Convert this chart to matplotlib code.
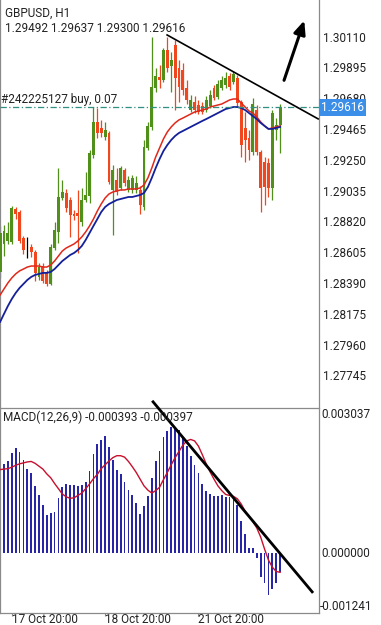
import matplotlib
matplotlib.use("Agg")
import matplotlib.pyplot as plt
from matplotlib.transforms import blended_transform_factory

plt.rcParams["font.family"] = ["Roboto", "DejaVu Sans"]

# GBPUSD H1 candles, oldest first (bar 0 = 17 Oct 17:00)
opens = [1.28468, 1.28663, 1.28684, 1.28677, 1.28907, 1.28886, 1.28705, 1.28621, 1.28642, 1.28607,
         1.28433, 1.28509, 1.28468, 1.28384, 1.28635, 1.28747, 1.28984, 1.29019, 1.28970, 1.28872,
         1.28879, 1.28817, 1.28970, 1.28998, 1.29284, 1.29515, 1.29473, 1.29410, 1.29438, 1.29040,
         1.29110, 1.29054, 1.29180, 1.29040, 1.29040, 1.29040, 1.29040, 1.28921, 1.29333, 1.29480,
         1.29752, 1.29829, 1.29808, 1.30017, 1.29905, 1.30052, 1.29891, 1.29877, 1.29752, 1.29598,
         1.29654, 1.29633, 1.29626, 1.29598, 1.29626, 1.29752, 1.29689, 1.29752, 1.29773, 1.29836,
         1.29794, 1.29822, 1.29654, 1.29473, 1.29403, 1.29305, 1.29598, 1.29305, 1.29235, 1.29228,
         1.29054, 1.29459, 1.29492]
highs = [1.28789, 1.28796, 1.28817, 1.28928, 1.28921, 1.28900, 1.28719, 1.28712, 1.28663, 1.28621,
         1.28530, 1.28530, 1.28482, 1.28663, 1.28817, 1.29193, 1.29110, 1.29047, 1.28991, 1.28900,
         1.29040, 1.29054, 1.29166, 1.29319, 1.29619, 1.29612, 1.29529, 1.29515, 1.29452, 1.29214,
         1.29193, 1.29207, 1.29193, 1.29138, 1.29145, 1.29138, 1.29068, 1.29389, 1.29515, 1.30108,
         1.29891, 1.29912, 1.30031, 1.30108, 1.30003, 1.30087, 1.29947, 1.29926, 1.29808, 1.29703,
         1.29696, 1.29668, 1.29654, 1.29696, 1.29738, 1.29773, 1.29808, 1.29836, 1.29863, 1.29856,
         1.29870, 1.29842, 1.29668, 1.29584, 1.29459, 1.29682, 1.29633, 1.29319, 1.29270, 1.29263,
         1.29598, 1.29542, 1.29637]
lows = [1.28426, 1.28579, 1.28663, 1.28663, 1.28837, 1.28670, 1.28593, 1.28565, 1.28572, 1.28405,
        1.28412, 1.28391, 1.28370, 1.28377, 1.28621, 1.28670, 1.28970, 1.28886, 1.28712, 1.28831,
        1.28600, 1.28789, 1.28956, 1.28949, 1.29263, 1.29403, 1.29410, 1.29389, 1.29082, 1.28726,
        1.29005, 1.29040, 1.29068, 1.29026, 1.29019, 1.29019, 1.28872, 1.28900, 1.29319, 1.29459,
        1.29724, 1.29752, 1.29794, 1.29863, 1.29724, 1.29598, 1.29654, 1.29703, 1.29640, 1.29584,
        1.29577, 1.29570, 1.29570, 1.29584, 1.29612, 1.29668, 1.29675, 1.29738, 1.29752, 1.29738,
        1.29780, 1.29626, 1.29270, 1.29235, 1.29249, 1.29284, 1.29284, 1.28886, 1.28935, 1.28991,
        1.28970, 1.29389, 1.29300]
closes = [1.28740, 1.28754, 1.28740, 1.28914, 1.28872, 1.28684, 1.28621, 1.28621, 1.28607, 1.28461,
          1.28502, 1.28405, 1.28384, 1.28642, 1.28761, 1.28991, 1.29026, 1.28914, 1.28865, 1.28858,
          1.28858, 1.28970, 1.29005, 1.29298, 1.29515, 1.29438, 1.29438, 1.29459, 1.29096, 1.29180,
          1.29026, 1.29193, 1.29089, 1.29110, 1.29124, 1.29089, 1.28935, 1.29340, 1.29487, 1.29759,
          1.29836, 1.29808, 1.30017, 1.29891, 1.29947, 1.29822, 1.29759, 1.29738, 1.29668, 1.29668,
          1.29598, 1.29584, 1.29584, 1.29668, 1.29703, 1.29682, 1.29780, 1.29808, 1.29822, 1.29759,
          1.29849, 1.29647, 1.29354, 1.29389, 1.29319, 1.29640, 1.29305, 1.29054, 1.29061, 1.29054,
          1.29577, 1.29494, 1.29616]

# moving averages drawn on the chart (red = fast, blue = slow)
ma_fast = [1.28307, 1.28349, 1.28391, 1.28426, 1.28454, 1.28475, 1.28488, 1.28502, 1.28509, 1.28509,
           1.28509, 1.28502, 1.28502, 1.28516, 1.28544, 1.28579, 1.28614, 1.28635, 1.28649, 1.28663,
           1.28684, 1.28712, 1.28747, 1.28789, 1.28837, 1.28893, 1.28942, 1.28984, 1.29012, 1.29026,
           1.29033, 1.29040, 1.29040, 1.29047, 1.29047, 1.29047, 1.29054, 1.29075, 1.29124, 1.29193,
           1.29270, 1.29333, 1.29396, 1.29445, 1.29480, 1.29508, 1.29529, 1.29542, 1.29556, 1.29570,
           1.29584, 1.29591, 1.29598, 1.29605, 1.29619, 1.29626, 1.29633, 1.29640, 1.29654, 1.29668,
           1.29675, 1.29675, 1.29647, 1.29619, 1.29591, 1.29577, 1.29549, 1.29515, 1.29487, 1.29466,
           1.29473, 1.29480, 1.29487]
ma_slow = [1.28119, 1.28175, 1.28230, 1.28279, 1.28321, 1.28356, 1.28384, 1.28412, 1.28433, 1.28447,
           1.28454, 1.28461, 1.28461, 1.28468, 1.28488, 1.28516, 1.28544, 1.28565, 1.28586, 1.28600,
           1.28621, 1.28649, 1.28691, 1.28740, 1.28789, 1.28837, 1.28886, 1.28921, 1.28942, 1.28956,
           1.28970, 1.28977, 1.28984, 1.28991, 1.28991, 1.28998, 1.29005, 1.29019, 1.29061, 1.29124,
           1.29193, 1.29256, 1.29312, 1.29354, 1.29389, 1.29417, 1.29438, 1.29452, 1.29466, 1.29480,
           1.29494, 1.29508, 1.29522, 1.29535, 1.29549, 1.29563, 1.29577, 1.29591, 1.29605, 1.29612,
           1.29619, 1.29619, 1.29612, 1.29598, 1.29577, 1.29556, 1.29535, 1.29508, 1.29487, 1.29466,
           1.29466, 1.29473, 1.29480]

# MACD(12,26,9): histogram (main line) and signal
macd_main = [0.00185, 0.00187, 0.00192, 0.00209, 0.00220, 0.00211, 0.00195, 0.00176, 0.00168, 0.00140,
             0.00122, 0.00101, 0.00080, 0.00084, 0.00087, 0.00115, 0.00138, 0.00145, 0.00143, 0.00143,
             0.00140, 0.00143, 0.00150, 0.00173, 0.00208, 0.00228, 0.00237, 0.00246, 0.00222, 0.00195,
             0.00175, 0.00166, 0.00150, 0.00133, 0.00122, 0.00105, 0.00083, 0.00098, 0.00120, 0.00157,
             0.00192, 0.00213, 0.00243, 0.00255, 0.00263, 0.00265, 0.00257, 0.00243, 0.00225, 0.00204,
             0.00185, 0.00168, 0.00145, 0.00131, 0.00124, 0.00120, 0.00120, 0.00122, 0.00118, 0.00118,
             0.00118, 0.00101, 0.00068, 0.00041, 0.00011, 0.00011, -0.00009, -0.00049, -0.00062, -0.00087,
             -0.00074, -0.00062, -0.000393]
macd_signal = [0.00175, 0.00176, 0.00177, 0.00180, 0.00184, 0.00187, 0.00189, 0.00191, 0.00192, 0.00188,
               0.00182, 0.00176, 0.00166, 0.00158, 0.00146, 0.00135, 0.00124, 0.00118, 0.00115, 0.00116,
               0.00121, 0.00126, 0.00135, 0.00145, 0.00156, 0.00165, 0.00177, 0.00185, 0.00193, 0.00200,
               0.00204, 0.00204, 0.00201, 0.00192, 0.00181, 0.00169, 0.00155, 0.00141, 0.00132, 0.00126,
               0.00131, 0.00138, 0.00154, 0.00169, 0.00185, 0.00200, 0.00213, 0.00226, 0.00235, 0.00238,
               0.00235, 0.00224, 0.00206, 0.00187, 0.00170, 0.00155, 0.00141, 0.00131, 0.00123, 0.00121,
               0.00119, 0.00114, 0.00103, 0.00088, 0.00078, 0.00066, 0.00053, 0.00034, 0.00009, -0.00014,
               -0.00029, -0.00038, -0.000397]

price_ticks = [1.30110, 1.29895, 1.29680, 1.29465, 1.29250, 1.29035, 1.28820,
               1.28605, 1.28390, 1.28175, 1.27960, 1.27745]
macd_ticks = [0.003037, 0.000000, -0.001241]
date_tick_bars = [3, 27, 51]
date_tick_labels = ["17 Oct 20:00", "18 Oct 20:00", "21 Oct 20:00"]
bid_price = 1.29616
order_label = "#242225127 buy, 0.07"

GREEN = "#4f8f1a"
RED = "#f0471f"
FS = 8.5
W, H = 381, 625

fig = plt.figure(figsize=(W / 100, H / 100), dpi=100)
ax = fig.add_axes([0, 1 - 407 / H, 319 / W, 407 / H])
ax2 = fig.add_axes([0, 1 - 612.7 / H, 319 / W, 204.7 / H])

bars = list(range(len(opens)))
xlim = (-0.03, 82.0)

# candles
colors = []
for o, c in zip(opens, closes):
    colors.append(GREEN if c > o else (RED if c < o else "black"))
ax.vlines(bars, lows, highs, colors=colors, lw=0.9, zorder=2)
bottoms = [min(o, c) for o, c in zip(opens, closes)]
heights = [max(abs(c - o), 0.00002) for o, c in zip(opens, closes)]
ax.bar(bars, heights, bottom=bottoms, width=0.72, color=colors, lw=0, zorder=3)

ax.plot(bars, ma_fast, color="#e0281a", lw=1.1, zorder=4)
ax.plot(bars, ma_slow, color="#14209a", lw=1.3, zorder=4)

# order / bid line
ax.axhline(bid_price, color="#2f8f80", lw=0.9, ls=(0, (5, 2, 1, 2)), zorder=5)
ax.text(0.3, bid_price + 0.0001, order_label, fontsize=FS, color="#222222", va="bottom", ha="left")

# trendline and arrow
ax.plot([42.94, 81.78], [1.30122, 1.29536], color="black", lw=1.2, zorder=6, clip_on=False)
ax.annotate("", xy=(78.44, 1.30241), xytext=(72.78, 1.29787),
            arrowprops=dict(arrowstyle="-|>,head_length=0.8,head_width=0.35", color="black", lw=2.2),
            zorder=6)

ax.set_xlim(*xlim)
ax.set_ylim(1.27525, 1.30366)
ax.yaxis.tick_right()
ax.set_yticks(price_ticks)
ax.set_yticklabels([f"{v:.5f}" for v in price_ticks])
ax.tick_params(axis="y", length=0, pad=3, labelsize=FS, labelcolor="#222222")
ax.set_xticks([])

# current price box
trans = blended_transform_factory(ax.transAxes, ax.transData)
ax.text(1.0 + 2 / 319, bid_price, f"{bid_price:.5f}", transform=trans, fontsize=FS, color="white",
        va="center", ha="left", zorder=10, clip_on=False,
        bbox=dict(boxstyle="square,pad=0.18", fc="#3b8fe8", ec="none"))

fig.text(5 / W, 1 - 13 / H, "GBPUSD, H1", fontsize=FS, color="#222222", va="center", ha="left")
fig.text(5 / W, 1 - 29 / H, " ".join(f"{v:.5f}" for v in (opens[-1], highs[-1], lows[-1], closes[-1])),
         fontsize=FS, color="#222222", va="center", ha="left")

# MACD panel
ax2.bar(bars, macd_main, width=0.45, color="#2626a6", lw=0, zorder=2)
ax2.plot(bars, macd_signal, color="#c8102e", lw=1.0, zorder=3)
ax2.plot([39.33, 80.24], [0.003166, -0.000805], color="black", lw=2.0, zorder=6, clip_on=False)
ax2.set_xlim(*xlim)
ax2.set_ylim(-0.001241, 0.003037)
ax2.set_yticks([])
ax2.set_xticks(date_tick_bars)
ax2.set_xticklabels(date_tick_labels, ha="left")
ax2.tick_params(axis="x", length=2.5, width=0.8, color="#888888", pad=-2.2, labelsize=FS, labelcolor="#222222")
trans2 = blended_transform_factory(ax2.transAxes, ax2.transData)
ax2.text(1.0 + 2 / 319, macd_ticks[0], f"{macd_ticks[0]:.6f}", transform=trans2, fontsize=FS,
         color="#222222", va="top", ha="left")
ax2.text(1.0 + 2 / 319, macd_ticks[1], f"{macd_ticks[1]:.6f}", transform=trans2, fontsize=FS,
         color="#222222", va="center", ha="left")
ax2.text(1.0 + 1 / 319, macd_ticks[2], f"{macd_ticks[2]:.6f}", transform=trans2, fontsize=FS,
         color="#222222", va="bottom", ha="left")
ax2.text(3 / 319, 0.985, f"MACD(12,26,9) {macd_main[-1]:.6f} {macd_signal[-1]:.6f}", transform=ax2.transAxes,
         fontsize=FS, color="#222222", va="top", ha="left", zorder=7)

for a in (ax, ax2):
    for side in ("top", "bottom", "left", "right"):
        a.spines[side].set_color("#8a8a8a")
        a.spines[side].set_linewidth(0.9)
ax.spines["top"].set_visible(False)
ax.spines["bottom"].set_visible(False)

fig.savefig("out.png", dpi=100, facecolor="white")
